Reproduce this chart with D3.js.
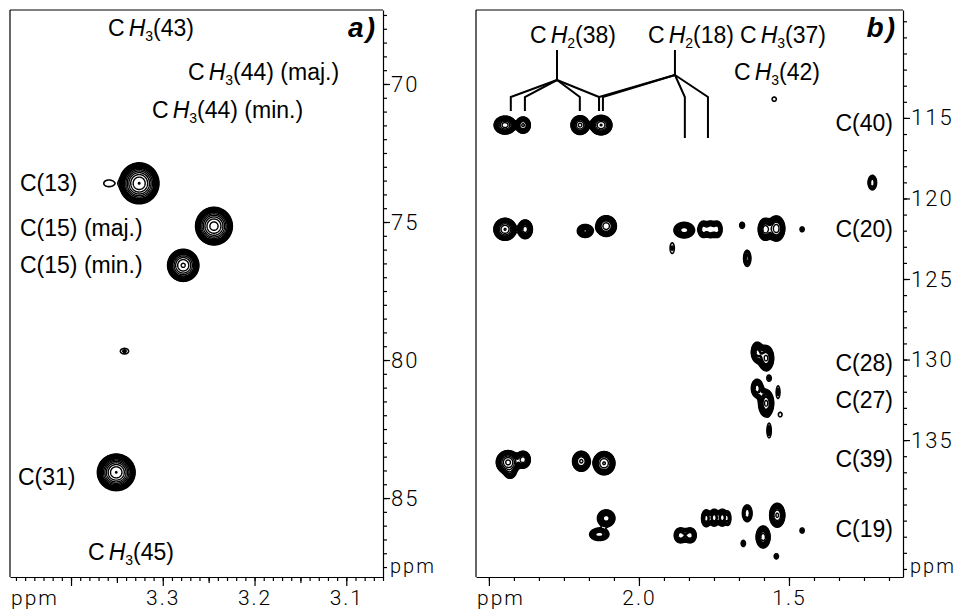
<!DOCTYPE html>
<html>
<head>
<meta charset="utf-8">
<script src="https://cdn.jsdelivr.net/npm/d3@7"></script>
<style>
  body { margin: 0; background: #fff; }
  svg text { font-family: "Liberation Sans", Arial, sans-serif; fill: #000; }
  .ax text, .mono { font-family: Roboto, sans-serif; font-weight: 300; letter-spacing: 2px; }
  .ax path, .ax line { stroke: #000; stroke-width: 1.2; }
</style>
</head>
<body>
<svg id="chart" width="955" height="610"></svg>
<script>
// cross peaks: [1H ppm, 13C ppm, height (in units of the lowest contour), 1H half width, 13C half width]
const peaksA = [
    [3.326, 73.59, 60, 0.0215, 0.74],   // C(13)
    [3.359, 73.59, 1.4, 0.0056, 0.12],
    [3.2445, 75.14, 50, 0.0200, 0.68],  // C(15) maj
    [3.278, 76.56, 30, 0.0170, 0.58],   // C(15) min
    [3.342, 79.67, 1.5, 0.0045, 0.10],
    [3.351, 84.06, 60, 0.0205, 0.66]    // C(31)
];
const peaksB = [
    // C(40) row
    [2.447, 115.43, 25, 0.036, 0.55], [2.387, 115.43, 10, 0.024, 0.50],
    [2.197, 115.43, 15, 0.030, 0.58], [2.127, 115.43, 20, 0.036, 0.60],
    [1.550, 113.82, 1.3, 0.007, 0.13], [1.223, 119.00, 3, 0.014, 0.45],
    // C(20) row
    [2.447, 121.90, 20, 0.037, 0.68], [2.380, 121.90, 8, 0.024, 0.58],
    [2.180, 122.00, 5, 0.026, 0.40], [2.110, 121.70, 12, 0.034, 0.64],
    [1.850, 121.95, 6, 0.034, 0.48], [1.890, 123.07, 1.5, 0.007, 0.33],
    [1.787, 121.90, 4, 0.016, 0.50], [1.763, 121.90, 4, 0.016, 0.50], [1.740, 121.90, 4, 0.016, 0.50],
    [1.657, 121.65, 1.6, 0.008, 0.19], [1.640, 123.70, 2.5, 0.012, 0.50],
    [1.580, 121.90, 8, 0.023, 0.68], [1.543, 121.85, 12, 0.028, 0.78],
    [1.457, 121.90, 1.5, 0.007, 0.15],
    // C(28), C(27)
    [1.607, 129.53, 5, 0.019, 0.62], [1.577, 129.90, 7, 0.025, 0.78],
    [1.567, 131.15, 1.5, 0.007, 0.17],
    [1.607, 131.77, 4, 0.019, 0.56], [1.577, 132.70, 7, 0.025, 0.84],
    [1.537, 132.00, 1.6, 0.006, 0.38], [1.530, 133.40, 1.4, 0.006, 0.14],
    [1.567, 134.40, 1.8, 0.007, 0.44],
    // C(39) row
    [2.437, 136.36, 22, 0.039, 0.72], [2.387, 136.20, 8, 0.024, 0.52],
    [2.430, 136.95, 4, 0.018, 0.40],
    [2.193, 136.30, 10, 0.029, 0.62], [2.117, 136.42, 14, 0.036, 0.72],
    // C(19) row
    [2.110, 139.84, 6, 0.029, 0.52], [2.133, 140.84, 4, 0.032, 0.38],
    [1.863, 140.90, 4, 0.020, 0.46], [1.830, 140.90, 4, 0.020, 0.46],
    [1.777, 139.84, 4, 0.015, 0.52], [1.750, 139.80, 4, 0.015, 0.52],
    [1.723, 139.80, 4, 0.015, 0.52], [1.703, 139.84, 2, 0.008, 0.40],
    [1.640, 139.53, 3, 0.016, 0.52], [1.653, 141.40, 1.6, 0.007, 0.19],
    [1.587, 141.00, 8, 0.023, 0.68], [1.540, 139.65, 10, 0.025, 0.74],
    [1.457, 140.60, 1.5, 0.007, 0.16], [1.543, 142.20, 1.5, 0.007, 0.16]
];

// proton positions joined by the CH2 brackets
const ch2_38 = { apex: 2.273, ends: [2.427, 2.380, 2.197, 2.133] };
const ch2_18 = { apex: 1.880, ends: [2.133, 2.120, 1.847, 1.770], long: [false, false, true, true] };

const rowLabelsB = ["C(40)", "C(20)", "C(28)", "C(27)", "C(39)", "C(19)"];
const rowShiftsB = [115.3, 121.9, 130.2, 132.5, 136.2, 140.5];

const ticksAx = [3.3, 3.2, 3.1];
const ticksAy = [70, 75, 80, 85];
const ticksBx = [2.0, 1.5];
const ticksBy = [115, 120, 125, 130, 135];

const svg = d3.select("#chart");
const levels = d3.range(0, 22).map(k => Math.pow(1.45, k));

// panel scales
const xa = d3.scaleLinear().domain([3.4665, 3.06]).range([10, 383]);
const ya = d3.scaleLinear().domain([67.32, 87.86]).range([10, 577]);
const xb = d3.scaleLinear().domain([2.543, 1.12]).range([476, 903]);
const yb = d3.scaleLinear().domain([108.3, 143.5]).range([10, 577]);

function draw_contours(g, peaks, x, y) {
    const [x0, x1] = x.range();
    const [y0, y1] = y.range();
    const res = 2;
    const n = Math.round((x1 - x0) * res), m = Math.round((y1 - y0) * res);
    const vals = new Float64Array(n * m);
    peaks.forEach(([h, c, a, wh, wc]) => {
        const k = Math.sqrt(2 * Math.log(a));
        const cx = (x(h) - x0) * res, cy = (y(c) - y0) * res;
        const sx = Math.abs(x(h + wh) - x(h)) * res / k;
        const sy = Math.abs(y(c + wc) - y(c)) * res / k;
        const i0 = Math.max(0, Math.floor(cx - 5 * sx)), i1 = Math.min(n - 1, Math.ceil(cx + 5 * sx));
        const j0 = Math.max(0, Math.floor(cy - 5 * sy)), j1 = Math.min(m - 1, Math.ceil(cy + 5 * sy));
        for (let j = j0; j <= j1; j++) {
            const dy = (j - cy) / sy;
            for (let i = i0; i <= i1; i++) {
                const dx = (i - cx) / sx;
                vals[j * n + i] += a * Math.exp(-0.5 * (dx * dx + dy * dy));
            }
        }
    });
    const contours = d3.contours().size([n, m]).thresholds(levels)(vals);
    const path = d3.geoPath(d3.geoTransform({
        point: function (px, py) { this.stream.point(x0 + px / res, y0 + py / res); }
    }));
    g.selectAll("path")
        .data(contours)
        .join("path")
        .attr("d", path)
        .attr("fill", "none")
        .attr("stroke", "#000")
        .attr("stroke-width", (d, i) => i === 0 ? 1.6 : i < 5 ? 2.6 : 1.4)
        .attr("stroke-linejoin", "round");
}

// C H_n (..) label with italic H and subscript
function chem(g, x, y, sub, rest, anchor = "start") {
    const t = g.append("text")
        .attr("x", x).attr("y", y)
        .attr("font-size", 23)
        .attr("text-anchor", anchor);
    t.append("tspan").text("C");
    t.append("tspan").attr("dx", 4).attr("font-style", "italic").text("H");
    t.append("tspan").attr("font-size", 14).attr("dy", 5).text(sub);
    t.append("tspan").attr("dy", -5).text(rest);
    return t;
}

function plain(g, x, y, txt, anchor = "start") {
    return g.append("text")
        .attr("x", x).attr("y", y)
        .attr("font-size", 23)
        .attr("text-anchor", anchor)
        .text(txt);
}

function draw_axes(g, x, y, xMinor, xMid, xMajor, xLabels, yMinor, yMajor) {
    const [x0, x1] = x.range();
    const [y0, y1] = y.range();
    g.append("line").attr("x1", x0).attr("x2", x1).attr("y1", y0).attr("y2", y0)
        .attr("stroke", "#000").attr("stroke-width", 1);
    g.append("line").attr("x1", x0).attr("x2", x0).attr("y1", y0).attr("y2", y1)
        .attr("stroke", "#000").attr("stroke-width", 1.2);

    const gx = g.append("g").attr("class", "ax").attr("transform", `translate(0,${y1})`);
    gx.append("g").call(d3.axisBottom(x).tickValues(xMinor).tickSize(4).tickSizeOuter(0).tickFormat(""));
    if (xMid.length) gx.append("g").call(d3.axisBottom(x).tickValues(xMid).tickSize(6).tickSizeOuter(0).tickFormat(""))
        .select(".domain").remove();
    gx.append("g").call(d3.axisBottom(x).tickValues(xMajor).tickSize(9).tickSizeOuter(0).tickFormat(""))
        .select(".domain").remove();
    gx.append("g").call(d3.axisBottom(x).tickValues(xLabels).tickSize(0).tickPadding(13).tickSizeOuter(0)
        .tickFormat(d3.format(".1f")))
        .call(s => s.select(".domain").remove())
        .selectAll("text").attr("font-size", 21);
    gx.append("text").attr("class", "mono").attr("x", x0 + 1).attr("y", 28).attr("font-size", 21).text("ppm");

    const gy = g.append("g").attr("class", "ax").attr("transform", `translate(${x1},0)`);
    gy.append("g").call(d3.axisRight(y).tickValues(yMinor).tickSize(4).tickSizeOuter(0).tickFormat(""));
    gy.append("g").call(d3.axisRight(y).tickValues(yMajor).tickSize(7).tickPadding(1).tickSizeOuter(0)
        .tickFormat(d3.format("d")))
        .call(s => s.select(".domain").remove())
        .selectAll("text").attr("font-size", 22);
    gy.append("text").attr("class", "mono").attr("x", 7).attr("y", y1 - 4)
        .attr("font-size", 20).attr("letter-spacing", 1).text("ppm");
}

// ---- panel a ----
const ga = svg.append("g");
draw_axes(ga, xa, ya,
    d3.range(306, 347).map(d => d / 100),
    [3.35, 3.25, 3.15],
    [3.4, 3.3, 3.2, 3.1],
    ticksAx,
    d3.range(135, 176).map(d => d / 2),
    ticksAy);
draw_contours(ga.append("g"), peaksA, xa, ya);

chem(ga, 108, 36, "3", "(43)");
chem(ga, 188, 80, "3", "(44) (maj.)");
chem(ga, 152, 118, "3", "(44) (min.)");
chem(ga, 88, 560, "3", "(45)");
plain(ga, 20, 191, "C(13)");
plain(ga, 20, 236, "C(15) (maj.)");
plain(ga, 20, 273, "C(15) (min.)");
plain(ga, 18, 485, "C(31)");
plain(ga, 377, 37, "a)", "end").attr("font-size", 28).attr("font-style", "italic")
    .attr("font-weight", "bold").attr("letter-spacing", 2);

// ---- panel b ----
const gb = svg.append("g");
draw_axes(gb, xb, yb,
    d3.range(0, 17).map(k => 2.5 - k / 12),
    [],
    [2.5, 2.0, 1.5],
    ticksBx,
    d3.range(109, 144),
    ticksBy);
draw_contours(gb.append("g"), peaksB, xb, yb);

chem(gb, 573, 43, "2", "(38)", "middle");
chem(gb, 691, 43, "2", "(18)", "middle");
chem(gb, 783, 43, "3", "(37)", "middle");
chem(gb, 777, 80, "3", "(42)", "middle");
plain(gb, 897, 37, "b)", "end").attr("font-size", 28).attr("font-style", "italic")
    .attr("font-weight", "bold").attr("letter-spacing", 2);

rowLabelsB.forEach((lab, i) => {
    plain(gb, 893, yb(rowShiftsB[i]) + 8, lab, "end");
});

// brackets linking the CH2 protons to their cross peaks
const gBr = gb.append("g").attr("fill", "none").attr("stroke", "#000").attr("stroke-width", 2);
[ch2_38, ch2_18].forEach((br, bi) => {
    const ax = xb(br.apex);
    const apexY = bi === 0 ? 80 : 75;
    gBr.append("line").attr("x1", ax).attr("x2", ax).attr("y1", 50).attr("y2", apexY);
    br.ends.forEach((e, i) => {
        const ex = xb(e);
        const bottom = br.long && br.long[i] ? 138 : 111;
        gBr.append("polyline").attr("points", `${ax},${apexY} ${ex},97 ${ex},${bottom}`);
    });
});
</script>
</body>
</html>
